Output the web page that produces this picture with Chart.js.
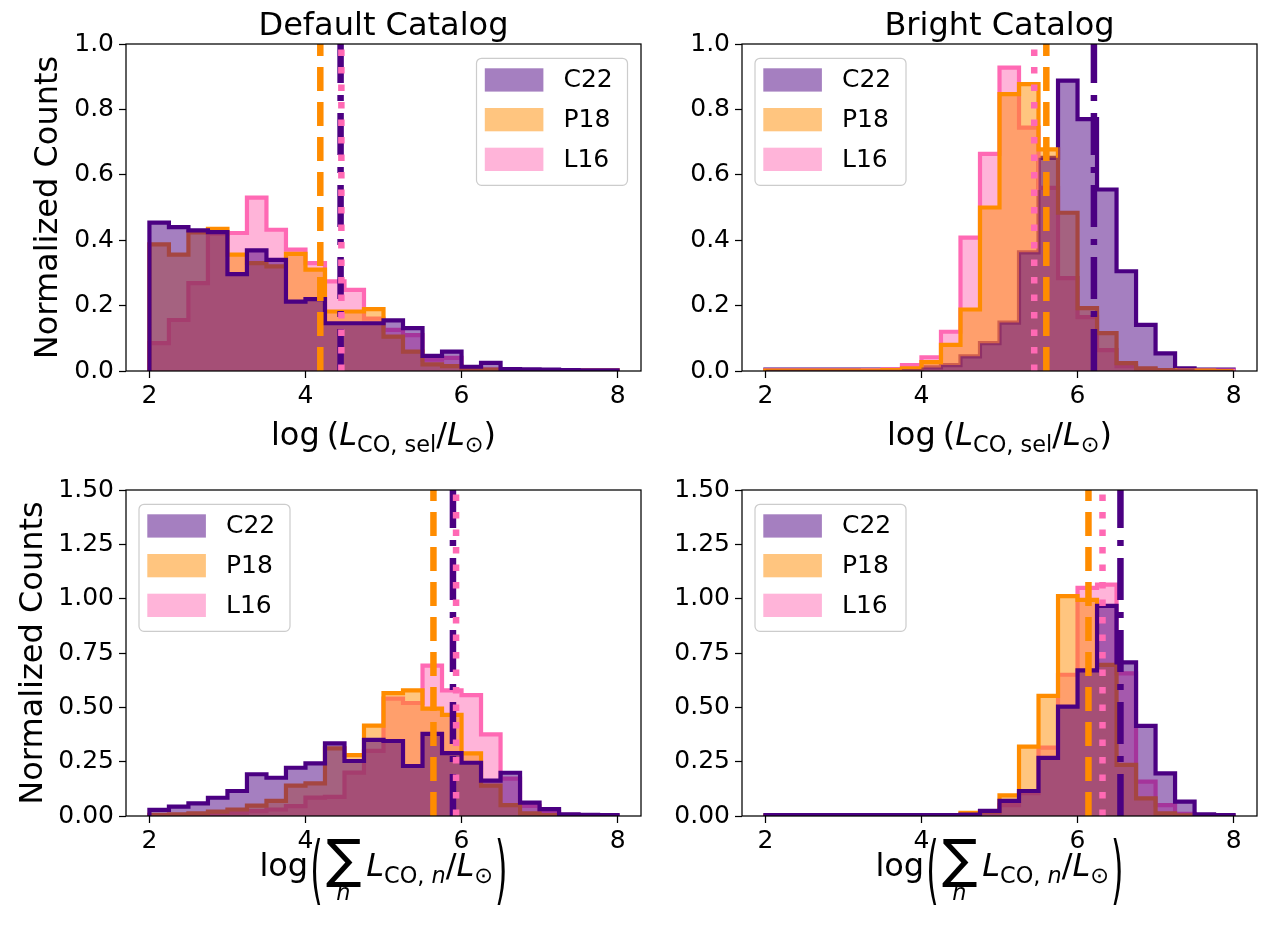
<!DOCTYPE html>
<html>
<head>
<meta charset="utf-8">
<script src="https://cdn.jsdelivr.net/npm/chart.js@4.4.1/dist/chart.umd.min.js"></script>
<style>
  html,body{margin:0;padding:0;background:#fff;}
  #fig{position:relative;width:1262px;height:934px;overflow:hidden;background:#fff;}
  canvas{position:absolute;}
</style>
</head>
<body>
<div id="fig">
  <canvas id="tl" width="655" height="467" style="left:0;top:0"></canvas>
  <canvas id="tr" width="607" height="467" style="left:655px;top:0"></canvas>
  <canvas id="bl" width="655" height="467" style="left:0;top:467px"></canvas>
  <canvas id="br" width="607" height="467" style="left:655px;top:467px"></canvas>
</div>
<script>
// ---------- DATA ----------
const binEdges = [2.00, 2.25, 2.50, 2.75, 3.00, 3.25, 3.50, 3.75, 4.00, 4.25, 4.50, 4.75,
                  5.00, 5.25, 5.50, 5.75, 6.00, 6.25, 6.50, 6.75, 7.00, 7.25, 7.50, 7.75, 8.00];
const xTicks = [2, 4, 6, 8];
const yTicksTop = [0, 0.2, 0.4, 0.6, 0.8, 1.0];
const yTicksBottom = [0, 0.25, 0.5, 0.75, 1.0, 1.25, 1.5];
const seriesNames = ['C22', 'P18', 'L16'];

// Default catalog, log(L_CO,sel)
const defSelC22 = [0.454, 0.440, 0.430, 0.425, 0.296, 0.369, 0.340, 0.212, 0.220, 0.146, 0.146, 0.146,
                   0.155, 0.131, 0.046, 0.059, 0.013, 0.025, 0.006, 0.005, 0.004, 0.003, 0.002, 0.002];
const defSelP18 = [0.387, 0.356, 0.424, 0.435, 0.356, 0.330, 0.320, 0.358, 0.310, 0.182, 0.182, 0.189,
                   0.105, 0.059, 0.020, 0.015, 0.006, 0.004, 0.003, 0.002, 0.002, 0.001, 0.001, 0.001];
const defSelL16 = [0.085, 0.156, 0.269, 0.420, 0.422, 0.530, 0.432, 0.371, 0.330, 0.274, 0.248, 0.160,
                   0.126, 0.110, 0.035, 0.040, 0.010, 0.004, 0.003, 0.002, 0.002, 0.001, 0.001, 0.001];
const defSelMedians = [4.45, 4.19, 4.46];   // C22, P18, L16

// Bright catalog, log(L_CO,sel)
const briSelC22 = [0.004, 0.004, 0.004, 0.004, 0.004, 0.004, 0.004, 0.006, 0.011, 0.018, 0.045, 0.085,
                   0.148, 0.363, 0.652, 0.888, 0.770, 0.555, 0.305, 0.141, 0.054, 0.008, 0.004, 0.004];
const briSelP18 = [0.001, 0.001, 0.001, 0.001, 0.001, 0.001, 0.003, 0.008, 0.027, 0.080, 0.188, 0.500,
                   0.847, 0.877, 0.678, 0.484, 0.192, 0.116, 0.024, 0.008, 0.003, 0.001, 0.001, 0.000];
const briSelL16 = [0.002, 0.002, 0.002, 0.002, 0.002, 0.003, 0.005, 0.018, 0.042, 0.120, 0.408, 0.664,
                   0.928, 0.744, 0.560, 0.284, 0.165, 0.064, 0.015, 0.005, 0.002, 0.001, 0.001, 0.001];
const briSelMedians = [6.21, 5.60, 5.445];

// Default catalog, log(sum_n L_CO,n)
const defSumC22 = [0.028, 0.043, 0.058, 0.084, 0.115, 0.192, 0.176, 0.222, 0.242, 0.334, 0.253, 0.350,
                   0.345, 0.230, 0.378, 0.289, 0.245, 0.163, 0.199, 0.062, 0.032, 0.008, 0.005, 0.004];
const defSumP18 = [0.005, 0.008, 0.012, 0.020, 0.030, 0.048, 0.070, 0.140, 0.150, 0.311, 0.280, 0.416,
                   0.565, 0.578, 0.494, 0.465, 0.288, 0.140, 0.050, 0.012, 0.004, 0.002, 0.001, 0.000];
const defSumL16 = [0.003, 0.004, 0.006, 0.010, 0.015, 0.022, 0.030, 0.045, 0.085, 0.088, 0.200, 0.300,
                   0.540, 0.520, 0.692, 0.578, 0.556, 0.376, 0.172, 0.047, 0.018, 0.005, 0.002, 0.001];
const defSumMedians = [5.89, 5.64, 5.93];

// Bright catalog, log(sum_n L_CO,n)
const briSumC22 = [0.004, 0.004, 0.004, 0.004, 0.004, 0.004, 0.004, 0.004, 0.004, 0.004, 0.006, 0.024,
                   0.070, 0.115, 0.267, 0.503, 0.670, 0.967, 0.707, 0.415, 0.196, 0.066, 0.008, 0.004];
const briSumP18 = [0.001, 0.001, 0.001, 0.001, 0.001, 0.001, 0.001, 0.001, 0.002, 0.004, 0.014, 0.020,
                   0.095, 0.319, 0.553, 1.012, 0.994, 0.695, 0.235, 0.081, 0.012, 0.003, 0.001, 0.000];
const briSumL16 = [0.001, 0.001, 0.001, 0.001, 0.001, 0.001, 0.001, 0.001, 0.002, 0.003, 0.006, 0.015,
                   0.050, 0.105, 0.315, 0.650, 1.050, 1.065, 0.656, 0.158, 0.050, 0.010, 0.002, 0.001];
const briSumMedians = [6.55, 6.14, 6.32];

// ---------- STYLE ----------
const FONT = '"DejaVu Sans", "Liberation Sans", sans-serif';
const LABEL_SIZE = 32;
const lineColors = { C22:'#4b0082', P18:'#ff8c00', L16:'#ff69b4' };
const fillColors = { C22:'rgba(75,0,130,0.5)', P18:'rgba(255,140,0,0.5)', L16:'rgba(255,105,180,0.5)' };
const medianDash = { C22:[42, 12, 6, 12], P18:[24, 11], L16:[6.5, 11] };

// math-ish axis labels, drawn piece by piece (sy = vertical stretch for tall delimiters)
const xlabelSel = [
  {t:'log'}, {t:'(', gap:7}, {t:'L', it:true}, {t:'CO, sel', s:0.7, dy:7},
  {t:'/'}, {t:'L', it:true}, {t:'\u2299', s:0.7, dy:7}, {t:')'}
];
const xlabelSum = [
  {t:'log'}, {t:'(', sy:2.35, cy:-5, gap:2},
  {t:'\u2211', s:1.65, dy:1, gap:3, under:{t:'n', it:true, s:0.7, dy:24}},
  {t:'L', it:true, gap:5}, {t:'CO, ', s:0.7, dy:7}, {t:'n', it:true, s:0.7, dy:7},
  {t:'/'}, {t:'L', it:true}, {t:'\u2299', s:0.7, dy:7}, {t:')', sy:2.35, cy:-5, gap:2}
];

const panels = {
  tl:{ title:'Default Catalog', ylabelX:57, xlabel:xlabelSel, xlabelDy:74, yMax:1.0, yTicks:yTicksTop, dec:1,
       legendSide:'right', c22Under:false, pad:{left:0, top:44, right:14}, yw:126, xh:96,
       series:{ C22:defSelC22, P18:defSelP18, L16:defSelL16 }, medians:defSelMedians },
  tr:{ title:'Bright Catalog', ylabelX:null, xlabel:xlabelSel, xlabelDy:74, yMax:1.0, yTicks:yTicksTop, dec:1,
       legendSide:'left', c22Under:true, pad:{left:0, top:44, right:5}, yw:87, xh:96,
       series:{ C22:briSelC22, P18:briSelP18, L16:briSelL16 }, medians:briSelMedians },
  bl:{ title:null, ylabelX:42, xlabel:xlabelSum, xlabelDy:60, yMax:1.5, yTicks:yTicksBottom, dec:2,
       legendSide:'left', c22Under:false, pad:{left:0, top:23, right:14}, yw:126, xh:118,
       series:{ C22:defSumC22, P18:defSumP18, L16:defSumL16 }, medians:defSumMedians },
  br:{ title:null, ylabelX:null, xlabel:xlabelSum, xlabelDy:60, yMax:1.5, yTicks:yTicksBottom, dec:2,
       legendSide:'left', c22Under:false, pad:{left:0, top:23, right:5}, yw:87, xh:118,
       series:{ C22:briSumC22, P18:briSumP18, L16:briSumL16 }, medians:briSumMedians }
};

// ---------- HELPERS ----------
// histogram outline: up from 0 at the first edge, flat over each bin, back to 0 at the last edge
function stepPoints(vals){
  const last = binEdges.length - 1;
  const pts = [{ x: binEdges[0], y: 0 }];
  vals.forEach((v, i) => pts.push({ x: binEdges[i], y: v }));
  pts.push({ x: binEdges[last], y: vals[vals.length - 1] });
  pts.push({ x: binEdges[last], y: 0 });
  return pts;
}

function fontOf(sg, base){
  return (sg.it ? 'italic ' : '') + (base * (sg.s || 1)) + 'px ' + FONT;
}

function drawRich(ctx, segs, cx, by, base){
  let total = 0;
  const widths = segs.map(sg => {
    ctx.font = fontOf(sg, base);
    let w = ctx.measureText(sg.t).width;
    if(sg.under){ ctx.font = fontOf(sg.under, base); w = Math.max(w, ctx.measureText(sg.under.t).width); }
    total += (sg.gap || 0) + w;
    return w;
  });
  let x = cx - total / 2;
  ctx.textAlign = 'center';
  ctx.textBaseline = 'alphabetic';
  segs.forEach((sg, i) => {
    x += sg.gap || 0;
    const size = base * (sg.s || 1);
    ctx.font = fontOf(sg, base);
    if(sg.sy){
      // tall delimiter: stretch vertically around its own centre
      ctx.save();
      ctx.translate(x + widths[i] / 2, by + sg.cy);
      ctx.scale(1, sg.sy);
      ctx.fillText(sg.t, 0, 0.315 * size);
      ctx.restore();
    } else {
      ctx.fillText(sg.t, x + widths[i] / 2, by + (sg.dy || 0));
    }
    if(sg.under){
      ctx.font = fontOf(sg.under, base);
      ctx.fillText(sg.under.t, x + widths[i] / 2, by + sg.under.dy);
    }
    x += widths[i];
  });
}

function roundRect(ctx, x, y, w, h, r){
  ctx.beginPath();
  ctx.moveTo(x + r, y);
  ctx.arcTo(x + w, y, x + w, y + h, r);
  ctx.arcTo(x + w, y + h, x, y + h, r);
  ctx.arcTo(x, y + h, x, y, r);
  ctx.arcTo(x, y, x + w, y, r);
  ctx.closePath();
}

// ---------- DECORATION PLUGIN (spines, legend, titles, labels) ----------
const decoPlugin = {
  id:'deco',
  afterDatasetsDraw(chart){
    const p = panels[chart.canvas.id];
    const { ctx, chartArea:a } = chart;
    ctx.save();
    ctx.strokeStyle = '#000';
    ctx.lineWidth = 1.25;
    ctx.strokeRect(a.left, a.top, a.right - a.left, a.bottom - a.top);

    // legend box
    const lw = 151, lh = 127;
    const lx = p.legendSide === 'right' ? a.right - 13.5 - lw : a.left + 13;
    const ly = a.top + 14.3;
    roundRect(ctx, lx, ly, lw, lh, 5);
    ctx.fillStyle = 'rgba(255,255,255,0.8)';
    ctx.fill();
    ctx.strokeStyle = '#cccccc';
    ctx.lineWidth = 1.2;
    ctx.stroke();
    ctx.font = '25px ' + FONT;
    ctx.textAlign = 'left';
    ctx.textBaseline = 'middle';
    seriesNames.forEach((name, i) => {
      const py = ly + 10 + i * 39.7;
      ctx.fillStyle = fillColors[name];
      ctx.fillRect(lx + 8.3, py, 58.6, 23.3);
      ctx.fillStyle = '#000';
      ctx.fillText(name, lx + 87, py + 12.5);
    });
    ctx.restore();
  },
  afterDraw(chart){
    const p = panels[chart.canvas.id];
    const { ctx, chartArea:a } = chart;
    const cx = (a.left + a.right) / 2;
    ctx.save();
    ctx.fillStyle = '#000';
    if(p.title){
      ctx.font = LABEL_SIZE + 'px ' + FONT;
      ctx.textAlign = 'center';
      ctx.textBaseline = 'alphabetic';
      ctx.fillText(p.title, cx, a.top - 9);
    }
    drawRich(ctx, p.xlabel, cx, a.bottom + p.xlabelDy, LABEL_SIZE);
    if(p.ylabelX !== null){
      ctx.translate(p.ylabelX, (a.top + a.bottom) / 2);
      ctx.rotate(-Math.PI / 2);
      ctx.font = LABEL_SIZE + 'px ' + FONT;
      ctx.textAlign = 'center';
      ctx.textBaseline = 'alphabetic';
      ctx.fillText('Normalized Counts', 0, 0);
    }
    ctx.restore();
  }
};

// ---------- CHARTS ----------
function buildDatasets(p){
  const ds = [];
  const lineOrder = { C22: p.c22Under ? 20 : 3, P18:5, L16:7 };
  const fillOrder = { C22:4, P18:6, L16:8 };
  seriesNames.forEach(name => {
    const pts = stepPoints(p.series[name]);
    ds.push({ data: pts, order: fillOrder[name], stepped:'before', fill:'origin',
              backgroundColor: fillColors[name], borderColor:'rgba(0,0,0,0)', borderWidth:0,
              pointRadius:0, clip:0 });
    ds.push({ data: pts, order: lineOrder[name], stepped:'before', fill:false,
              borderColor: lineColors[name], borderWidth:4.2, borderJoinStyle:'miter',
              pointRadius:0, clip:0 });
  });
  const medianOrder = { P18:2, C22:1, L16:0 };
  seriesNames.forEach((name, i) => {
    const m = p.medians[i];
    ds.push({ data:[{ x:m, y:0 }, { x:m, y:p.yMax }], order: medianOrder[name], fill:false,
              borderColor: lineColors[name], borderWidth:6.5, borderDash: medianDash[name],
              borderCapStyle:'butt', pointRadius:0, clip:0 });
  });
  return ds;
}

function buildChart(id){
  const p = panels[id];
  const tickFont = { family: FONT, size: 25 };
  return new Chart(document.getElementById(id), {
    type:'line',
    data:{ datasets: buildDatasets(p) },
    options:{
      responsive:false,
      devicePixelRatio:1,
      animation:false,
      events:[],
      layout:{ padding:{ left:p.pad.left, top:p.pad.top, right:p.pad.right, bottom:0 } },
      plugins:{ legend:{ display:false }, tooltip:{ enabled:false }, title:{ display:false } },
      scales:{
        x:{
          type:'linear', min:1.7, max:8.3,
          afterBuildTicks:(s) => { s.ticks = xTicks.map(v => ({ value:v })); },
          afterFit:(s) => { s.height = p.xh; },
          ticks:{ font:tickFont, color:'#000', padding:3, autoSkip:false, maxRotation:0,
                  callback:(v) => String(v) },
          grid:{ drawOnChartArea:false, drawTicks:true, tickLength:7, tickWidth:1.25, tickColor:'#000' },
          border:{ display:false }
        },
        y:{
          type:'linear', min:0, max:p.yMax,
          afterBuildTicks:(s) => { s.ticks = p.yTicks.map(v => ({ value:v })); },
          afterFit:(s) => { s.width = p.yw; },
          ticks:{ font:tickFont, color:'#000', padding:5, autoSkip:false,
                  callback:(v) => Number(v).toFixed(p.dec) },
          grid:{ drawOnChartArea:false, drawTicks:true, tickLength:7, tickWidth:1.25, tickColor:'#000' },
          border:{ display:false }
        }
      }
    },
    plugins:[decoPlugin]
  });
}

['tl', 'tr', 'bl', 'br'].forEach(buildChart);
</script>
</body>
</html>
